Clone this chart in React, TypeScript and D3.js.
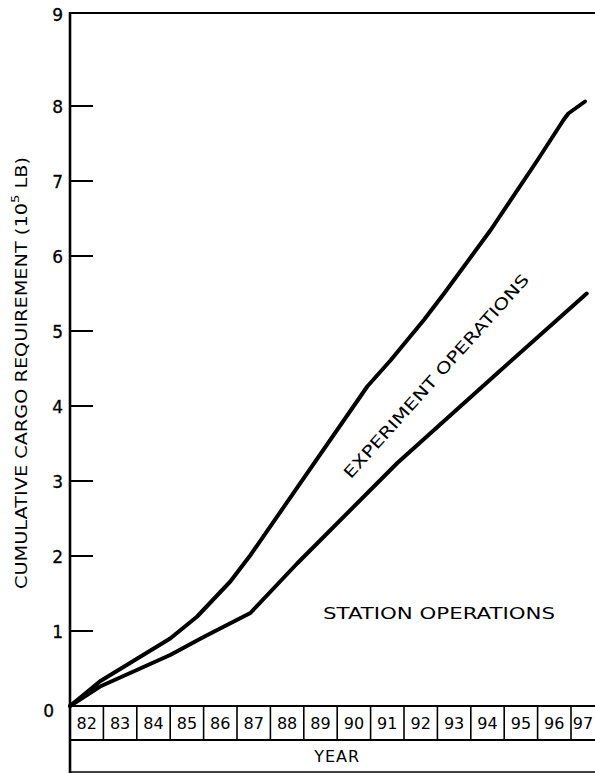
import React from "react";
import * as d3 from "d3";

const yearLabels = ["82","83","84","85","86","87","88","89","90","91","92","93","94","95","96","97"];
const yTickValues = [0, 1, 2, 3, 4, 5, 6, 7, 8];
const topTickLabel = "9";

// Experiment operations (upper curve, cumulative total)
const expYears = [82.0, 82.9, 85.0, 85.8, 86.8, 87.4, 90.9, 91.6, 92.6, 93.2, 94.6, 96.0, 96.77, 96.92, 97.42];
const expValues = [0.0, 0.33, 0.9, 1.19, 1.66, 2.01, 4.26, 4.61, 5.15, 5.5, 6.35, 7.28, 7.81, 7.9, 8.06];

// Station operations (lower curve)
const staYears = [82.0, 82.9, 85.0, 86.0, 87.4, 88.8, 91.8, 94.8, 97.47];
const staValues = [0.0, 0.26, 0.68, 0.92, 1.24, 1.9, 3.24, 4.44, 5.5];

const FONT = "'DejaVu Sans', 'Noto Sans', sans-serif";

export default function App() {
  const W = 595, H = 773;
  const axisX = 70;
  const topY = 13;
  const x = d3.scaleLinear().domain([82, 98]).range([70, 70 + 16 * 33.4]);
  const y = d3.scaleLinear().domain([0, 8]).range([706, 106]);
  const rowTop = y(0);
  const rowMid = 740;
  const rowBot = 772;

  const line = d3.line<[number, number]>().x(d => x(d[0])).y(d => y(d[1]));
  const expPts: [number, number][] = expYears.map((yr, i) => [yr, expValues[i]]);
  const staPts: [number, number][] = staYears.map((yr, i) => [yr, staValues[i]]);

  return (
    <svg width={W} height={H} style={{ position: "absolute", left: 0, top: 0, background: "#fff" }}>
      <rect x={0} y={0} width={W} height={H} fill="#fff" />
      {/* frame */}
      <line x1={axisX} x2={W} y1={topY} y2={topY} stroke="#000" strokeWidth={2} />
      <line x1={axisX} x2={axisX} y1={topY - 1} y2={H} stroke="#000" strokeWidth={2.6} />
      {/* y ticks */}
      {yTickValues.filter(v => v > 0).map(v => (
        <line key={"t" + v} x1={axisX} x2={axisX + 23} y1={y(v)} y2={y(v)} stroke="#000" strokeWidth={2} />
      ))}
      {yTickValues.map(v => (
        <text key={"l" + v} x={v === 0 ? 54 : 63} y={v === 0 ? y(v) + 6 : y(v) + 2} textAnchor="end"
          dominantBaseline="middle" fontFamily={FONT} fontSize={17} fill="#000" stroke="#000" strokeWidth={0.3}>{v}</text>
      ))}
      <text x={63} y={topY + 3} textAnchor="end" dominantBaseline="middle" fontFamily={FONT} fontSize={17} fill="#000" stroke="#000" strokeWidth={0.3}>{topTickLabel}</text>
      {/* y axis title */}
      <text transform={`translate(22, 373) rotate(-90)`} textAnchor="middle" dominantBaseline="middle"
        fontFamily={FONT} fontSize={16} fill="#000" textLength={432} lengthAdjust="spacingAndGlyphs">
        CUMULATIVE CARGO REQUIREMENT (10<tspan dy={-6} fontSize={11}>5</tspan><tspan dy={6}> LB)</tspan>
      </text>
      {/* year table */}
      <line x1={axisX} x2={W} y1={rowTop} y2={rowTop} stroke="#000" strokeWidth={2.2} />
      <line x1={axisX} x2={W} y1={rowMid} y2={rowMid} stroke="#000" strokeWidth={2} />
      <line x1={axisX} x2={W} y1={rowBot} y2={rowBot} stroke="#000" strokeWidth={1.6} />
      {yearLabels.map((lab, i) => (
        <g key={lab}>
          {i > 0 && <line x1={x(82 + i)} x2={x(82 + i)} y1={rowTop} y2={rowMid} stroke="#000" strokeWidth={1.6} />}
          <text x={Math.min(x(82.5 + i), W - 12)} y={(rowTop + rowMid) / 2 + 1} textAnchor="middle" dominantBaseline="middle"
            fontFamily={FONT} fontSize={16} fill="#000">{lab}</text>
        </g>
      ))}
      <text x={(x(82) + x(98)) / 2} y={(rowMid + rowBot) / 2 + 1} textAnchor="middle" dominantBaseline="middle"
        fontFamily={FONT} fontSize={16} fill="#000" letterSpacing={1}>YEAR</text>
      {/* curves */}
      <path d={line(staPts) || ""} fill="none" stroke="#000" strokeWidth={4} strokeLinejoin="round" strokeLinecap="round" />
      <path d={line(expPts) || ""} fill="none" stroke="#000" strokeWidth={4} strokeLinejoin="round" strokeLinecap="round" />
      {/* labels */}
      <text transform={`translate(437, 377) rotate(-48)`} textAnchor="middle" dominantBaseline="middle"
        fontFamily={FONT} fontSize={16} fill="#000" textLength={268} lengthAdjust="spacingAndGlyphs">EXPERIMENT OPERATIONS</text>
      <text x={439} y={614} textAnchor="middle" dominantBaseline="middle"
        fontFamily={FONT} fontSize={16} fill="#000" textLength={232} lengthAdjust="spacingAndGlyphs">STATION OPERATIONS</text>
    </svg>
  );
}
